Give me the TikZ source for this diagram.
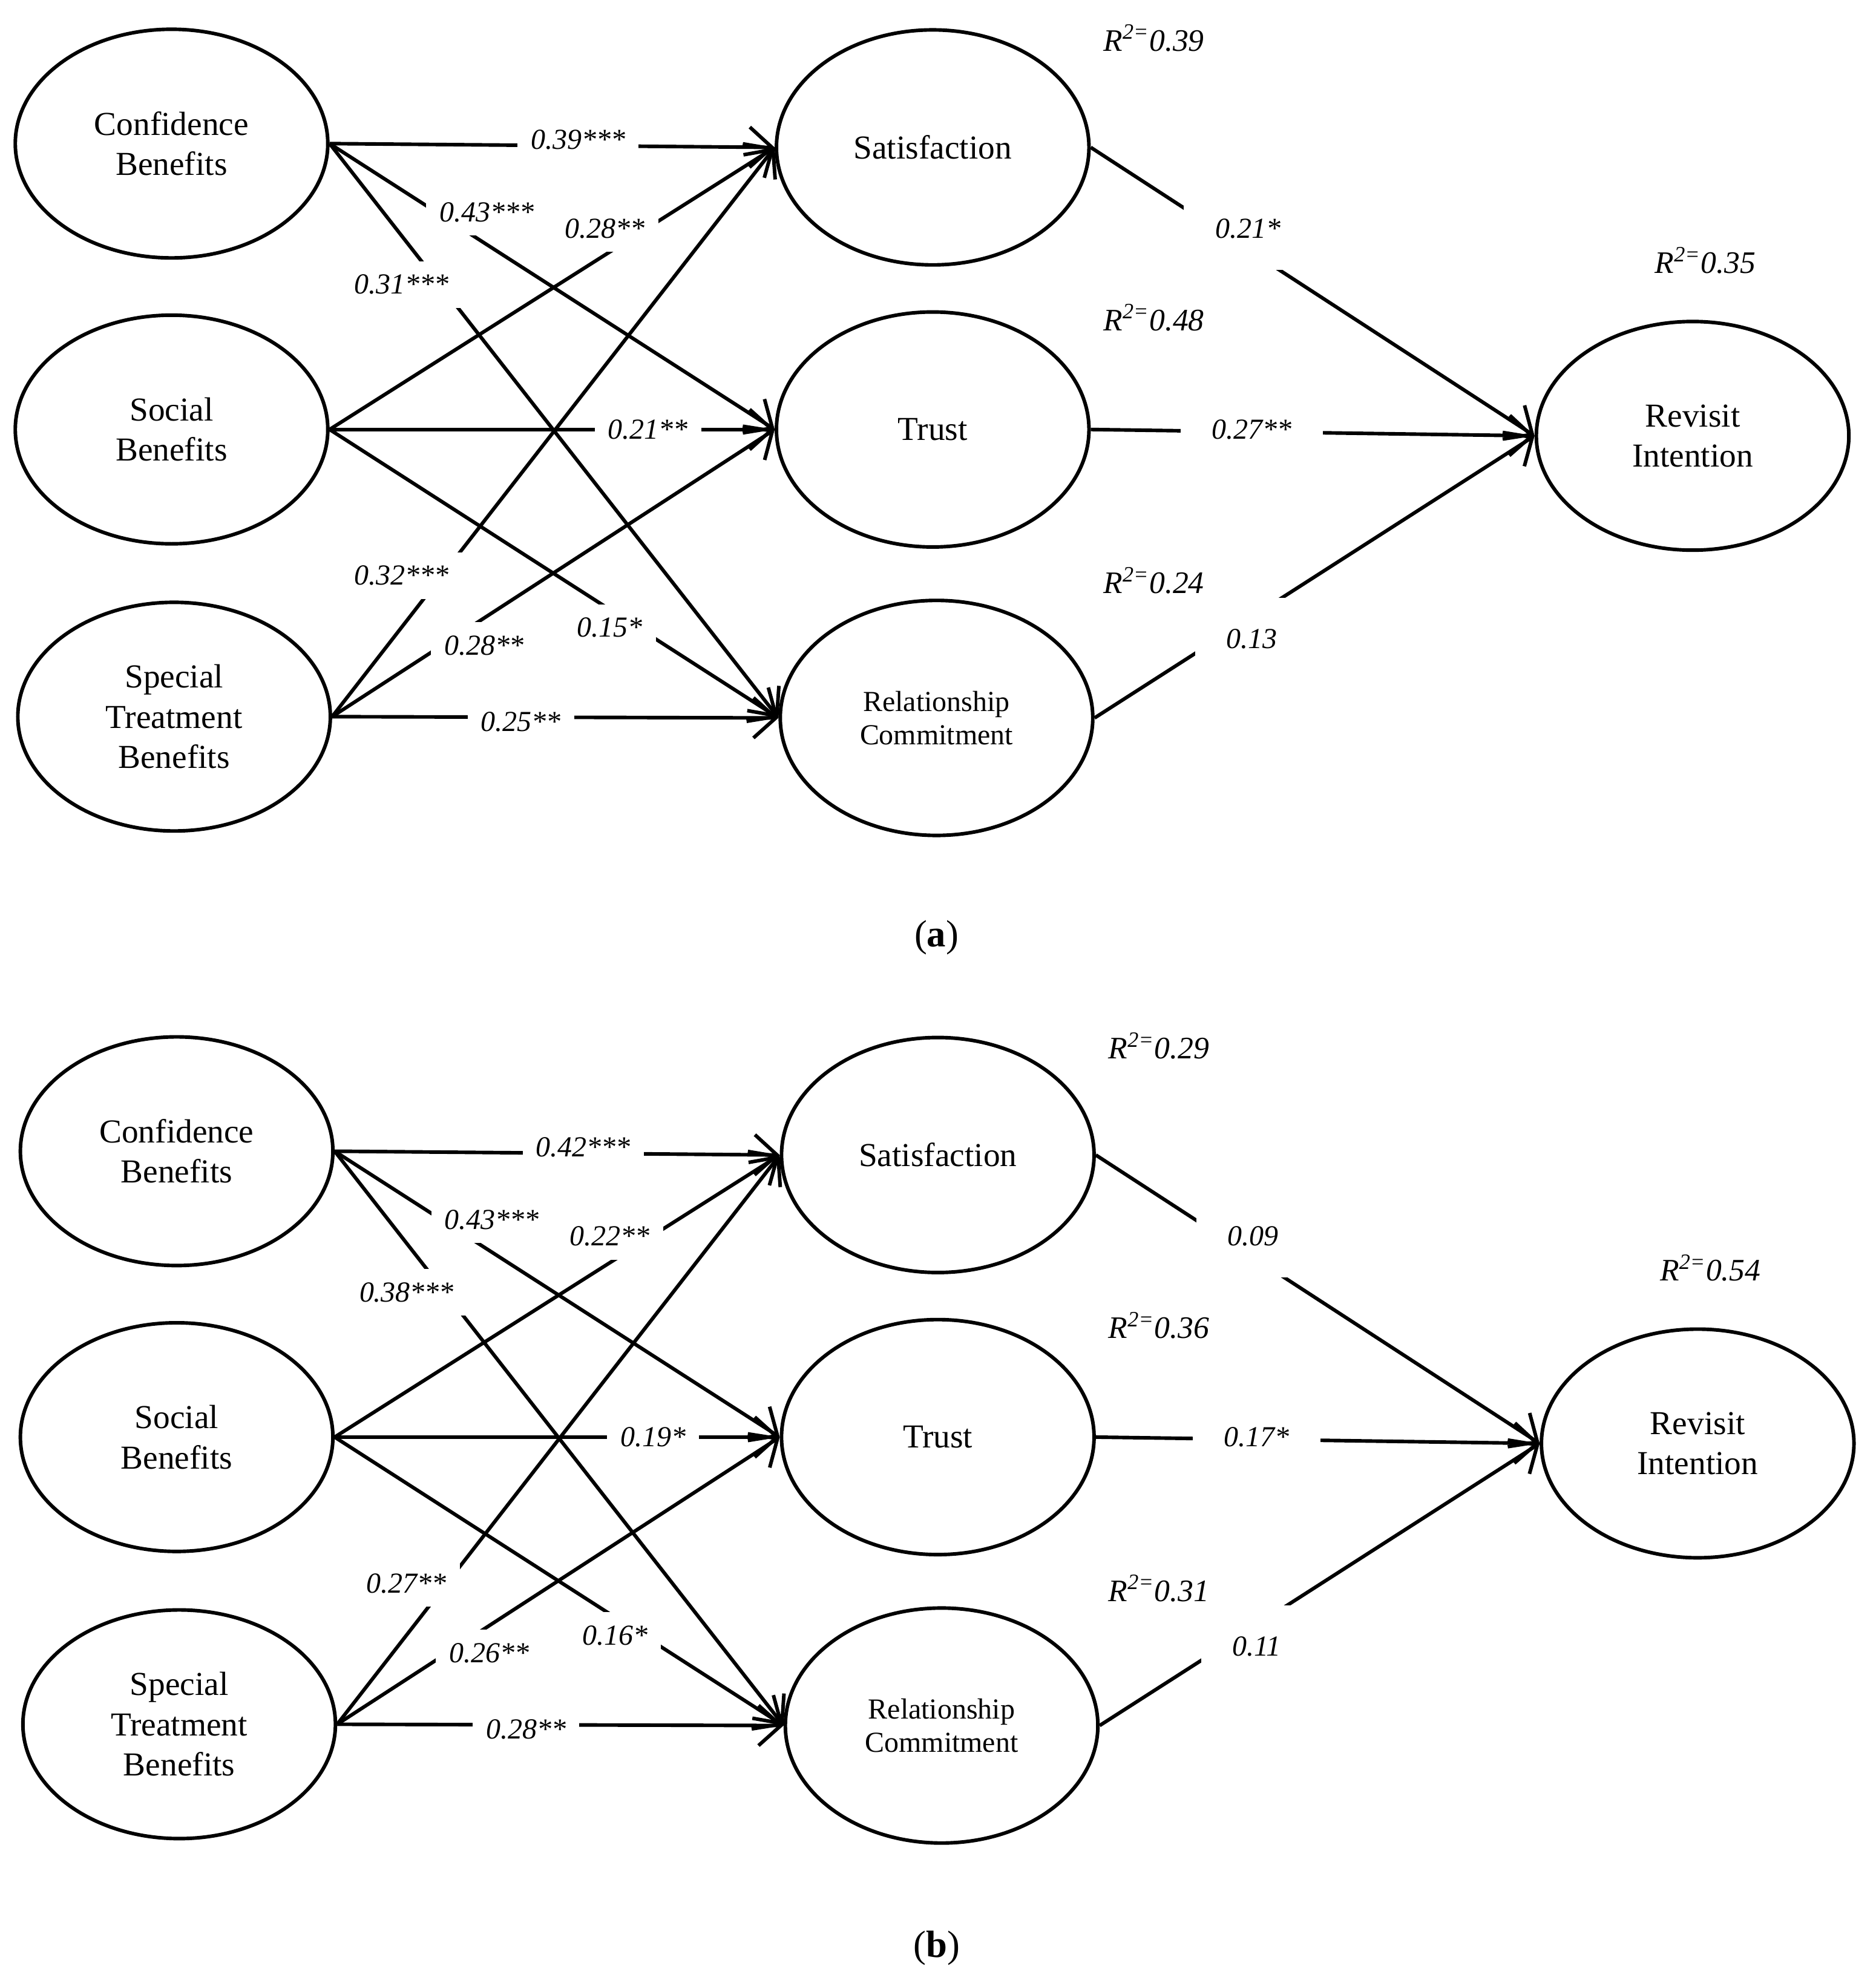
\documentclass[tikz,border=0pt]{standalone}
\usepackage{fontspec}
\setmainfont{Liberation Serif}
\usetikzlibrary{arrows.meta,shapes.geometric}
\begin{document}
\begin{tikzpicture}[x=0.02cm,y=-0.02cm,
  el/.style={draw,line width=1.6pt,ellipse,minimum width=4.92cm,minimum height=3.6cm,inner sep=0pt,align=center,font=\fontsize{15}{18}\selectfont},
  ar/.style={line width=1.6pt,-{Straight Barb[length=10pt,width=18pt,line width=1.6pt]}},
  lb/.style={fill=white,inner sep=6pt,font=\fontsize{13}{15}\selectfont\itshape},
  rr/.style={font=\fontsize{14}{16}\selectfont\itshape},
  figcap/.style={font=\fontsize{17}{20}\selectfont}]
\useasboundingbox (0,0) rectangle (1476,1563);
\foreach \p/\dx/\dy/\a/\b/\c/\d/\e/\f/\g/\h/\i/\j/\k/\l/\ra/\rb/\rc/\rd in {
 a/0/0/0.39***/0.43***/0.31***/0.28**/0.21**/0.15*/0.32***/0.28**/0.25**/0.21*/0.27**/0.13/0.39/0.48/0.24/0.35,
 b/4/793/0.42***/0.43***/0.38***/0.22**/0.19*/0.16*/0.27**/0.26**/0.28**/0.09/0.17*/0.11/0.29/0.36/0.31/0.54}{
 \begin{scope}[shift={(\dx,\dy)}]
 \node[el] (cb\p) at (135,113) {Confidence\\Benefits};
 \node[el] (sb\p) at (135,338) {Social\\Benefits};
 \node[el] (st\p) at (137,564) {Special\\Treatment\\Benefits};
 \node[el,minimum height=3.7cm] (sa\p) at (734,116) {Satisfaction};
 \node[el,minimum height=3.7cm] (tr\p) at (734,338) {Trust};
 \node[el,minimum height=3.7cm,font=\fontsize{13}{15}\selectfont] (rc\p) at (737,565) {Relationship\\Commitment};
 \node[el] (ri\p) at (1332,343) {Revisit\\Intention};
 \draw[ar] (cb\p.east) -- (sa\p.west);
 \draw[ar] (cb\p.east) -- (tr\p.west);
 \draw[ar] (cb\p.east) -- (rc\p.west);
 \draw[ar] (sb\p.east) -- (sa\p.west);
 \draw[ar] (sb\p.east) -- (tr\p.west);
 \draw[ar] (sb\p.east) -- (rc\p.west);
 \draw[ar] (st\p.east) -- (sa\p.west);
 \draw[ar] (st\p.east) -- (tr\p.west);
 \draw[ar] (st\p.east) -- (rc\p.west);
 \draw[ar] (sa\p.east) -- (ri\p.west);
 \draw[ar] (tr\p.east) -- (ri\p.west);
 \draw[ar] (rc\p.east) -- (ri\p.west);
 \node[lb] (l1\p) at (455,110) {\a};
 \node[lb] (l2\p) at (383,167) {\b};
 \node[lb] (l3\p) at (316,224) {\c};
 \node[lb] (l4\p) at (476,180) {\d};
 \node[lb] (l5\p) at (510,338) {\e};
 \node[lb] (l6\p) at (480,494) {\f};
 \node[lb] (l7\p) at (316,453) {\g};
 \node[lb] (l8\p) at (381,508) {\h};
 \node[lb] (l9\p) at (410,568) {\i};
 \node[lb,inner sep=14pt] (l10\p) at (982,180) {\j};
 \node[lb,inner sep=14pt] (l11\p) at (985,338) {\k};
 \node[lb,inner sep=14pt] (l12\p) at (985,503) {\l};
 \node[rr] (r1\p) at (908,30) {R\textsuperscript{2=}\ra};
 \node[rr] (r2\p) at (908,250) {R\textsuperscript{2=}\rb};
 \node[rr] (r3\p) at (908,457) {R\textsuperscript{2=}\rc};
 \node[rr] (r4\p) at (1342,205) {R\textsuperscript{2=}\rd};
 \end{scope}}
\node[figcap] (ca) at (737,738) {(\textbf{a})};
\node[figcap] (cb) at (737,1533) {(\textbf{b})};
\end{tikzpicture}
\end{document}
